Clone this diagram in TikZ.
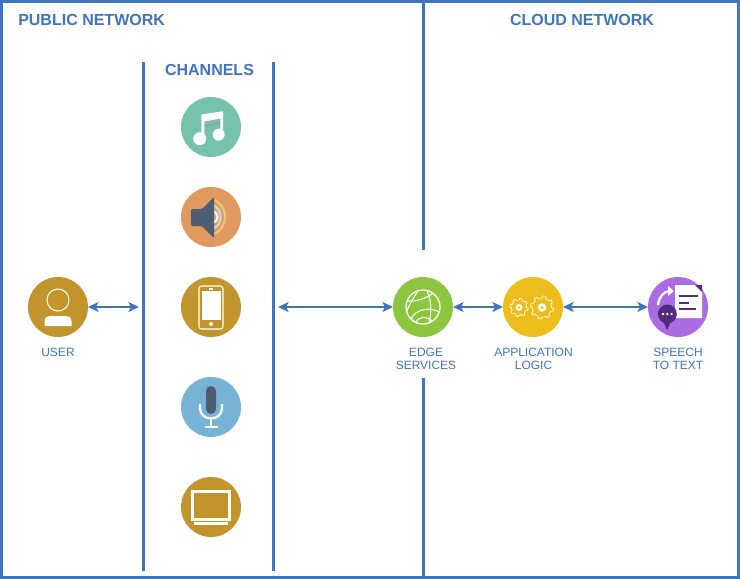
\documentclass[tikz,border=0pt]{standalone}
\usepackage{fontspec}
\setmainfont{Liberation Sans}
\usepackage{xcolor}
\definecolor{netblue}{HTML}{3F75BB}
\definecolor{teal}{HTML}{76C2AF}
\definecolor{orng}{HTML}{E0995E}
\definecolor{gold}{HTML}{C2942C}
\definecolor{sky}{HTML}{77B3D4}
\definecolor{slate}{HTML}{4F5D73}
\definecolor{leaf}{HTML}{8CC63F}
\definecolor{sun}{HTML}{EDBE1B}
\definecolor{lilac}{HTML}{AB6BE2}
\definecolor{plum}{HTML}{512C7C}
\usetikzlibrary{arrows.meta,positioning}
\tikzset{
  chan/.style={circle,minimum size=45pt,inner sep=0pt,outer sep=0pt},
  wall/.style={draw=netblue,line width=2.25pt},
  link/.style={draw=netblue,line width=1.2pt,{Stealth[length=8pt,width=7.5pt,inset=2pt]}-{Stealth[length=8pt,width=7.5pt,inset=2pt]}},
  head/.style={text=netblue,font=\bfseries\fontsize{12}{14}\selectfont,inner sep=0pt},
  lab/.style={text=netblue,font=\fontsize{9}{10.2}\selectfont,align=center,inner sep=0pt},
  wline/.style={draw=white,line width=0.8pt},
}
\newcommand{\gearicon}[3]{
  \draw[wline,line width=0.5pt,line join=round,fill=sun] plot[domain=0:360,samples=97] ({#1+#3*(1+.22*(sin(8*\x)>0))*cos(\x)},{#2+#3*(1+.22*(sin(8*\x)>0))*sin(\x)}) -- cycle;
  \fill[white] (#1,#2) circle (#3*.45);
  \fill[sun] (#1,#2) circle (#3*.18);
}
\begin{document}
\begin{tikzpicture}[x=0.75pt,y=-0.75pt]
    \useasboundingbox (0,0) rectangle (740,579);

    \node[head,anchor=west] (pubnet) at (18,20) {PUBLIC NETWORK};
    \node[head] (cloudnet) at (582,20) {CLOUD NETWORK};
    \node[head] (chans) at (209.5,70) {CHANNELS};

    \node[chan,fill=teal] (music) at (211,127) {};
    \node[chan,fill=orng,below=22.5pt of music] (sound) {};
    \node[chan,fill=gold,below=22.5pt of sound] (phone) {};
    \node[chan,fill=sky,below=30pt of phone] (mic) {};
    \node[chan,fill=gold,below=30pt of mic] (screen) {};
    \node[chan,fill=gold] (user) at (58,307) {};
    \node[chan,fill=leaf] (edge) at (423,307) {};
    \node[chan,fill=sun] (app) at (533,307) {};
    \node[chan,fill=lilac] (stt) at (678,307) {};

    \node[lab,anchor=north] (userlab) at (58,347.5) {USER};
    \node[lab,anchor=north] (edgelab) at (426,347.5) {EDGE\\SERVICES};
    \node[lab,anchor=north] (applab) at (533.5,347.5) {APPLICATION\\LOGIC};
    \node[lab,anchor=north] (sttlab) at (678,347.5) {SPEECH\\TO TEXT};

    \coordinate (chanleft) at (139,307);
    \coordinate (chanright) at (278,307);

    \begin{scope} [every path/.style=wall]
      \path (1.5,1.5) rectangle (738.5,577.5);
      \path (143,62) -- (143,571);
      \path (273,62) -- (273,571);
      \path (423,1) -- (423,250);
      \path (423,378) -- (423,577);
    \end{scope}

    \begin{scope} [every path/.style=link]
      \path (user) -- (chanleft);
      \path (chanright) -- (edge);
      \path (edge) -- (app);
      \path (app) -- (stt);
    \end{scope}

    % music
    \begin{scope}[shift={(music)}]
      \fill[teal!70!black!70] (-6.7,-3) -- (10,-5.5) -- (10,-3) -- (-6.7,0) -- cycle;
      \fill[white] (-9.7,12) -- (-9.7,-12.5) -- (12,-15.7) -- (12,8) -- (9.3,8) -- (9.3,-8.5) -- (-6.7,-5.5) -- (-6.7,12) -- cycle;
      \fill[white] (-11.3,11.7) circle (6.5);
      \fill[white] (7.7,7.7) circle (6);
    \end{scope}

    % speaker
    \begin{scope}[shift={(sound)}]
      \draw[sun!60!orng!70!white,line width=1.6pt] (2,-17) .. controls (18,-13) and (18,13) .. (2,17);
      \draw[black!18,line width=1.8pt] (2,-11.5) .. controls (12,-9) and (12,9) .. (2,11.5);
      \draw[white,line width=1.6pt] (2,-6) .. controls (8,-4) and (8,4) .. (2,6);
      \fill[slate,rounded corners=1pt] (-20,-8) -- (-9,-8) -- (3,-20) -- (3,21) -- (-9,9) -- (-20,9) -- cycle;
    \end{scope}

    % phone
    \begin{scope}[shift={(phone)}]
      \draw[wline,rounded corners=2pt] (-12,-21) rectangle (12,22);
      \fill[white] (-9.5,-16) rectangle (9.5,13);
      \fill[white] (0,17) circle (2);
      \draw[wline] (-2,-18) -- (2,-18);
    \end{scope}

    % user
    \begin{scope}[shift={(user)}]
      \draw[wline] (0,-7) circle (11);
      \fill[white] (-13.5,19) -- (-13.5,14) .. controls (-13,10) and (-11,9) .. (-8,9) -- (8,9) .. controls (11,9) and (13,10) .. (13.5,14) -- (13.5,19) -- cycle;
    \end{scope}

    % mic
    \begin{scope}[shift={(mic)}]
      \draw[white,line width=1.7pt] (-11,-3) -- (-11,1) .. controls (-11,15) and (11,15) .. (11,1) -- (11,-3);
      \draw[white,line width=1.7pt] (0,11) -- (0,20);
      \draw[white,line width=1.7pt] (-6.5,20) -- (6.5,20);
      \fill[slate,rounded corners=3.7pt] (-5,-21) rectangle (5,7);
    \end{scope}

    % monitor
    \begin{scope}[shift={(screen)}]
      \draw[white,line width=2pt] (-18.5,-15.5) rectangle (18.5,12.5);
      \fill[white] (-17,15) rectangle (17,18);
    \end{scope}

    % globe
    \begin{scope}[shift={(edge)}]
      \draw[wline,line width=1pt] (0,0) circle (17);
      \draw[wline] (-15,-6) .. controls (-8,-5) and (5,-9) .. (10,-14);
      \draw[wline] (-16,4) .. controls (-13,-4) and (-9,-10) .. (-5,-16);
      \draw[wline] (-12,12) .. controls (-8,3) and (6,-1) .. (16,5);
      \draw[wline] (4,-16) .. controls (8,-8) and (9,4) .. (6,16);
      \draw[wline] (-7,15) .. controls (-3,9) and (4,9) .. (9,14);
    \end{scope}

    % gears
    \begin{scope}[shift={(app)}]
      \gearicon{-14}{0.5}{7.5}
      \gearicon{9}{0.5}{9.5}
    \end{scope}

    % speech to text
    \begin{scope}[shift={(stt)}]
      \fill[white] (-3,-22) -- (17,-22) -- (24,-15) -- (24,11) -- (-3,11) -- cycle;
      \fill[plum] (17,-22) -- (24,-15) -- (24,-22) -- cycle;
      \draw[plum,line width=2pt] (1.3,-11) -- (20,-11);
      \draw[plum,line width=2pt] (1.3,-4) -- (11,-4);
      \draw[plum,line width=2pt] (1.3,2) -- (18,2);
      \fill[plum] (-10.7,7) circle (9.5);
      \fill[plum] (-15,14) -- (-7,14) -- (-10.7,23) -- cycle;
      \foreach \dotx in {-15,-10.7,-6.4} {\fill[white] (\dotx,7) circle (1.3);}
      \draw[white,line width=1.7pt] (-20,-2) .. controls (-19,-10) and (-15,-15) .. (-9,-16);
      \fill[white] (-10,-21) -- (-4,-16) -- (-10,-11) -- cycle;
    \end{scope}
  \end{tikzpicture}
\end{document}
